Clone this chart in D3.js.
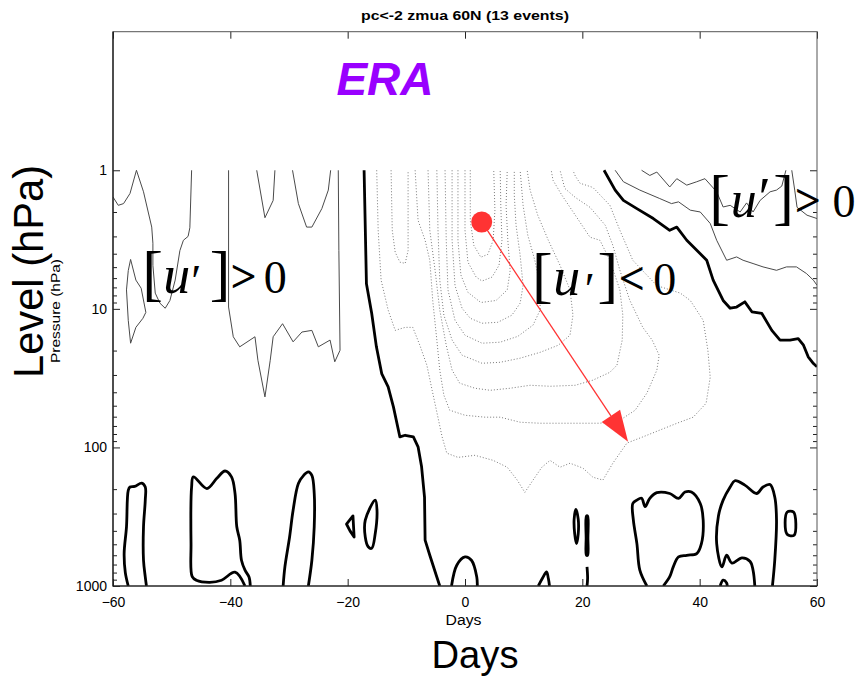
<!DOCTYPE html>
<html>
<head>
<meta charset="utf-8">
<script src="https://cdn.jsdelivr.net/npm/d3@7"></script>
<style>
  body { margin: 0; background: #fff; }
  svg { display: block; font-family: "Liberation Sans", Arial, sans-serif; }
</style>
</head>
<body>
<script>
// ---- data: [day, pressure hPa] ----
const xTicks = [-60, -40, -20, 0, 20, 40, 60];
const yTicks = [1, 10, 100, 1000];

// thin solid contours ([u'] > 0)
const posA = [[-60,1.56],[-59.1,1.79],[-58.2,1.74],[-57.1,1.47],[-56,1],[-54.8,1.43],[-54,2.0],[-53.4,2.57],[-53.2,3.36],[-53.2,4.85],[-52.8,7.7],[-52,9.1],[-51.1,9.9],[-50.3,8.7],[-49.4,6.2],[-48.6,3.8],[-48,3.2],[-47.2,3.0],[-46.9,2.6],[-46.6,1]];
const posB = [[-57,4.4],[-56.1,6.2],[-55.2,7.1],[-54.4,10.6],[-54.9,11.7],[-56.1,13.6],[-57,17.7],[-57.4,12.1],[-57.7,7.3],[-57.4,5.3]];
const posC = [[-40.3,1],[-40.3,9.7],[-39.5,15.9],[-38.4,18.8],[-35.8,15.9],[-35.3,23.5],[-34.1,43.2],[-33.2,23.5],[-32.7,15.9],[-31.1,12.8],[-29.3,17.3],[-27.8,14.7],[-26.1,14.3],[-25,18.8],[-23,16.8],[-22.2,24.1],[-21.3,19.9],[-21.5,3.8],[-21.6,1]];
const posV1 = [[-35.5,1],[-34.1,2.2],[-32.7,1.65],[-32.4,1]];
const posV2 = [[-29.4,1],[-28.4,1.74],[-27,2.57],[-26.1,2.57],[-24.4,1.89],[-23.3,1.39],[-22.9,1]];
const posG = [[25.6,1],[27,1.21],[29.8,1.39],[33.2,1.6],[35.2,1.74],[36.4,1.69],[38.4,1.94],[40.1,2.0],[41.8,2.42],[42.9,3.2],[44.6,4.46],[46.3,4.22],[47.4,4.46],[49.1,4.71],[50.8,4.98],[53.1,5.27],[54.8,4.98],[56.5,4.98],[58.2,5.56],[59.4,6.22],[60,6.76]];
const posH = [[30.1,1],[31.5,1.09],[32.7,1.03],[34.9,1.32],[36.1,1.15],[37.8,1.28],[39.5,1.21],[40.9,1.15],[42.9,1.43],[44,1.84],[45.2,1.79],[46.9,2.0],[48,1.72],[49.1,2.0],[50.3,1.65],[52,1.43],[53.1,1.39],[54,1.3],[54.7,1]];
const posH2 = [[55.7,1],[56.2,1.39],[56.6,1.85],[58.3,2.11],[60,2.23]];

// thick zero contours
const zeroE = [[-17.2,1],[-16.8,6.6],[-15.9,10.8],[-15.1,18.8],[-14.2,29.3],[-13.1,36.6],[-12.2,51],[-11.1,84],[-10.2,81.7],[-8.8,84],[-8,99],[-7.4,138],[-6.9,228],[-6.8,467],[-6,600],[-4.9,836],[-4.3,1000]];
const zeroF = [[23.7,1],[25.6,1.39],[27,1.65],[29.3,1.89],[32.1,2.23],[34.9,2.71],[36.1,2.57],[37.8,3.2],[40.1,4.0],[41.2,4.46],[42.3,6.2],[44,8.7],[45.2,9.9],[46.3,9.7],[47.7,8.9],[48.9,10.5],[50.6,10.8],[52.3,14.3],[53.7,16.8],[55.4,16.8],[56.8,16.4],[57.7,18.3],[58.5,22.2],[59.4,24.8],[60,26.2]];
const zeroL1 = [[-57.4,1000],[-57.9,800],[-58.1,582],[-57.7,374],[-57.4,204],[-57.1,193],[-56.3,191],[-55.1,181],[-54.5,193],[-54.5,240],[-54.8,374],[-54.8,652],[-54.5,860],[-54.3,1000]];
const zeroL2 = [[-37.5,1000],[-39.2,795],[-41.5,908],[-43.5,940],[-45.8,908],[-46.5,857],[-46.7,494],[-46.6,193],[-46.3,163],[-44,198],[-42.3,167],[-40.9,148],[-39.8,163],[-39.2,215],[-38.9,374],[-38.4,467],[-38.1,652],[-37.5,769],[-36.8,864],[-36.6,1000]];
const zeroL3 = [[-31,1000],[-30.7,728],[-29.9,443],[-29.3,284],[-28.4,182],[-27.5,159],[-26.7,150],[-26.1,159],[-25.7,215],[-25.7,374],[-26.1,652],[-26.7,1000]];
const zeroL6 = [[-2.3,1000],[-1.4,708],[0,617],[1.1,652],[2,857],[2.1,1000]];
const zeroL7 = [[12.5,1000],[13.2,880],[13.9,792],[14.2,880],[14.4,1000]];
const zeroL9b = [[20.8,728],[20.9,880],[20.8,1000]];
const zeroL10 = [[31,1000],[29.8,769],[29.3,494],[28.7,335],[28.6,254],[29.3,240],[30.1,233],[30.7,267],[31.5,233],[32.7,212],[34.9,215],[36.4,233],[37.5,210],[38.6,210],[40.1,254],[40.6,335],[40.3,494],[39.5,583],[37.8,600],[36.4,617],[35.5,728],[34.9,857],[33.8,1000]];
const zeroL11 = [[49.4,1000],[49.1,769],[48.6,665],[47.2,626],[45.5,683],[44.6,600],[43.8,728],[42.9,494],[43.2,312],[44,240],[45.2,193],[46,174],[47.7,187],[49.7,215],[50.8,193],[52,185],[52.8,228],[53.1,335],[52.8,652],[52.4,1000]];
const zeroL12 = [[43.5,1000],[44,908],[44.6,950],[44.7,1000]];
const zeroL4 = [[-20.2,357],[-19.1,312],[-18.9,443],[-19.6,400]];
const zeroL5 = [[-17,335],[-15.3,240],[-15,284],[-15.3,418],[-15.9,535],[-16.5,521],[-17,443]];
const zeroL8 = [[18.9,280],[19.3,330],[19.3,420],[19.0,495],[18.7,420],[18.6,330]];
const zeroL9a = [[20.7,312],[20.9,312],[20.95,450],[20.9,600],[20.7,600],[20.65,450]];
const zeroL13 = [[54.9,293],[56,293],[56.1,430],[54.9,423]];

// dotted contours ([u'] < 0)
const neg1 = [[-15.05,1],[-14.8,2.71],[-14.3,6.2],[-13.1,10.2],[-11.9,14.3],[-10.2,13.6],[-8.9,13.6],[-7.7,18.3],[-6.5,25.5],[-5.6,38.7],[-4.8,55.7],[-3.9,84],[-3.1,110],[-1.2,118],[1.7,114],[4.8,124],[7.2,139],[8.9,172],[10.2,211],[11.6,172],[13.1,139],[14.5,124],[16.2,139],[17.9,130],[20.1,141],[21.8,164],[23.5,172],[25.2,130],[27.6,93],[30.3,84],[33.2,75],[36.1,67],[38.9,60.5],[41.1,48],[41.8,31.2],[41.4,19.9],[40.6,12.1],[38.4,8.7],[36.7,7.7],[32.7,6.8],[28.6,4.46],[26.4,2.71],[24.7,1.79],[21.8,1.33],[19.6,1.24],[18.8,1.1],[18.4,1]];
const neg2 = [[-8.5,1],[-8,2.3],[-6.8,3.2],[-6,4.46],[-5.5,8.7],[-4.8,16.8],[-4.3,27.7],[-3.6,42],[-2.6,53.9],[0,58.6],[3.4,60.5],[6,60.5],[9.4,65.8],[12.8,66.9],[17.4,66.9],[23,66.9],[26.4,63.7],[29,53.9],[31,40.6],[32.7,27.7],[33.1,21.6],[31.9,16.8],[30.3,13.6],[28.1,8.7],[26.4,5.27],[25.2,3.48],[23.9,2.49],[21.3,1.85],[18.8,1.57],[17,1.35],[16.2,1]];
const neg3 = [[-6.3,1],[-6,2.71],[-5.1,5.27],[-4.3,10.2],[-3.2,18.3],[-2.2,27.7],[-0.9,34.4],[1.7,37.4],[4.3,38.7],[7.7,37.4],[11.1,35.6],[14.5,36.2],[18.8,35.6],[21.8,32.7],[24.7,28.7],[25.9,25.5],[26.8,16.8],[26.9,11.1],[26.4,7.3],[24.7,4.46],[23,3.2],[21.3,3.04],[18.8,2.11],[16.5,1.51],[15,1.18],[14.7,1]];
const neg4 = [[-4.8,1],[-4.6,2.71],[-4.3,6.2],[-3.6,11.1],[-2.2,16.8],[-0.5,21.6],[2.9,24.7],[6,24.3],[9.4,22.7],[12.8,20.6],[15.9,18.3],[17.9,15.5],[18.4,11.1],[17.9,7.3],[16.2,4.85],[14.2,3.2],[12.4,2.11],[11.1,1.39],[10.6,1]];
const neg5 = [[-3.4,1],[-3.2,3.2],[-2.9,7.3],[-1.7,12.1],[0,15.5],[2.9,17.7],[6,17.4],[9,15.8],[11.6,13.1],[12.8,10.2],[12.8,6.8],[11.9,4.46],[10.7,2.94],[9.9,1.79],[9.4,1]];
const neg6 = [[-2.2,1],[-2.2,3.2],[-1.7,6.8],[-0.5,9.9],[0.9,11.7],[2.9,12.7],[5.6,12.5],[8,11.1],[9.4,9.1],[9.9,6.8],[9.4,4.1],[8.7,2.49],[8.4,1.51],[8.4,1]];
const neg7 = [[-1.2,1],[-1.2,3.2],[-0.7,5.7],[0.5,7.6],[2.7,9],[5.3,8.7],[7.2,7.3],[7.7,5.3],[7.3,3.2],[7,1.79],[7.2,1]];
const neg8 = [[0,1],[0,2.71],[0.5,4.6],[1.9,5.9],[2.9,6.3],[4.6,5.9],[5.8,4.85],[6.3,3.2],[6.1,1.79],[6,1]];
const neg9 = [[0.9,1],[0.9,2.3],[1.5,3.48],[2.7,4.24],[3.9,4.04],[4.8,3.2],[5.1,1.94],[4.9,1]];
const negU = [[-12.6,1],[-12.4,2.71],[-11.9,3.9],[-11.1,4.6],[-10.2,4.7],[-9.7,3.8],[-9.7,1]];

// annotation: red dot + arrow (day, hPa)
const arrowFrom = [2.85, 2.36];
const arrowTo = [27.8, 91];

// ---- layout ----
const W = 859, H = 680;
const x = d3.scaleLinear().domain([-60, 60]).range([113, 817]);
const y = d3.scaleLog().domain([1000, 0.1]).range([586, 31.7]);

const svg = d3.select("body").append("svg").attr("width", W).attr("height", H);

svg.append("clipPath").attr("id", "plot")
  .append("rect")
  .attr("x", x(-60)).attr("y", y(0.1))
  .attr("width", x(60) - x(-60)).attr("height", y(1000) - y(0.1));

const line = d3.line().x(d => x(d[0])).y(d => y(d[1]));
const lineClosed = d3.line().x(d => x(d[0])).y(d => y(d[1])).curve(d3.curveLinearClosed);
const smooth = d3.line().x(d => x(d[0])).y(d => y(d[1])).curve(d3.curveCatmullRom.alpha(0.5));
const smoothClosed = d3.line().x(d => x(d[0])).y(d => y(d[1])).curve(d3.curveCatmullRomClosed.alpha(0.5));

const g = svg.append("g").attr("clip-path", "url(#plot)");

// dotted negatives
g.selectAll(".neg").data([neg1, neg2, neg3, neg4, neg5, neg6, neg7, neg8, neg9, negU])
  .join("path").attr("class", "neg")
  .attr("d", line).attr("fill", "none")
  .attr("stroke", "#7a7a7a").attr("stroke-width", 1).attr("stroke-dasharray", "1,2");

// thin positives
g.selectAll(".pos").data([posA, posC, posV1, posV2, posG, posH, posH2])
  .join("path").attr("class", "pos")
  .attr("d", line).attr("fill", "none")
  .attr("stroke", "#4a4a4a").attr("stroke-width", 1);
g.append("path").attr("d", lineClosed(posB)).attr("fill", "none")
  .attr("stroke", "#4a4a4a").attr("stroke-width", 1);

// thick zero line
const zeroStyle = sel => sel.attr("fill", "none").attr("stroke", "#000")
  .attr("stroke-width", 2.8).attr("stroke-linejoin", "round");
g.selectAll(".z1").data([zeroE, zeroF]).join("path").attr("class", "z1").attr("d", line).call(zeroStyle);
g.selectAll(".z2").data([zeroL1, zeroL2, zeroL3, zeroL6, zeroL7, zeroL9b, zeroL10, zeroL11, zeroL12])
  .join("path").attr("class", "z2").attr("d", smooth).call(zeroStyle);
g.selectAll(".z3").data([zeroL5, zeroL8, zeroL9a, zeroL13])
  .join("path").attr("class", "z3").attr("d", smoothClosed).call(zeroStyle);
g.append("path").attr("d", lineClosed(zeroL4)).call(zeroStyle);

// axes (ticks inward)
const ax = svg.append("g");
ax.append("g").attr("transform", `translate(0,${y(1000)})`)
  .call(d3.axisBottom(x).tickValues(xTicks).tickSize(-7).tickSizeOuter(0).tickPadding(11).tickFormat(d3.format("d")));
ax.append("g").attr("transform", `translate(0,${y(0.1)})`)
  .call(d3.axisTop(x).tickValues(xTicks).tickSize(-7).tickSizeOuter(0).tickFormat(""));
ax.append("g").attr("transform", `translate(${x(-60)},0)`)
  .call(d3.axisLeft(y).tickValues(yTicks).tickSize(-7).tickSizeOuter(0).tickPadding(6).tickFormat(d3.format("d")));
ax.append("g").attr("transform", `translate(${x(60)},0)`)
  .call(d3.axisRight(y).tickValues(yTicks).tickSize(-7).tickSizeOuter(0).tickFormat(""));
const minorTicks = y.ticks().filter(d => d >= 1 && d <= 1000 && !yTicks.includes(d));
ax.append("g").attr("transform", `translate(${x(-60)},0)`)
  .call(d3.axisLeft(y).tickValues(minorTicks).tickSize(-4).tickSizeOuter(0).tickFormat(""));
ax.append("g").attr("transform", `translate(${x(60)},0)`)
  .call(d3.axisRight(y).tickValues(minorTicks).tickSize(-4).tickSizeOuter(0).tickFormat(""));
ax.selectAll(".domain").remove();
ax.selectAll(".tick line").attr("stroke", "#222");
ax.selectAll(".tick text").attr("font-size", 14).attr("fill", "#000")
  .attr("font-family", '"Liberation Sans", Arial, sans-serif');

// frame
svg.append("rect")
  .attr("x", x(-60)).attr("y", y(0.1))
  .attr("width", x(60) - x(-60)).attr("height", y(1000) - y(0.1))
  .attr("fill", "none").attr("stroke", "#555").attr("stroke-width", 1);
svg.append("path")
  .attr("d", `M${x(-60)},${y(0.1)}V${y(1000)}H${x(60)}`)
  .attr("fill", "none").attr("stroke", "#111").attr("stroke-width", 1.2);

// red dot and arrow
const p0 = [x(arrowFrom[0]), y(arrowFrom[1])];
const p1 = [x(arrowTo[0]), y(arrowTo[1])];
const len = Math.hypot(p1[0] - p0[0], p1[1] - p0[1]);
const ux = (p1[0] - p0[0]) / len, uy = (p1[1] - p0[1]) / len;
const headL = 31, headW = 11;
const base = [p1[0] - ux * headL, p1[1] - uy * headL];
svg.append("line")
  .attr("x1", p0[0]).attr("y1", p0[1]).attr("x2", base[0]).attr("y2", base[1])
  .attr("stroke", "#ff3333").attr("stroke-width", 1.3);
svg.append("path")
  .attr("d", `M${p1[0]},${p1[1]}L${base[0] - uy * headW},${base[1] + ux * headW}L${base[0] + uy * headW},${base[1] - ux * headW}Z`)
  .attr("fill", "#ff3333");
svg.append("circle").attr("cx", p0[0]).attr("cy", p0[1]).attr("r", 10.5).attr("fill", "#ff3333");

// [u'] labels, one text each, glyphs placed as tspans
const uLabels = [
  { at: [-54.0, 7.72], sign: ">", off: [4.5, 28.5, 48, 72, 95.5, 127], uSize: 54, primeDy: 4, primeSize: 46 },
  { at: [12.4, 7.98], sign: "<", off: [4.5, 29, 52, 70, 94, 127], uSize: 54, primeDy: 10, primeSize: 46 },
  { at: [42.9, 2.17], sign: ">", off: [3, 27, 48, 67, 91.3, 127.3], uSize: 52, primeDy: 0, primeSize: 56 }
];
uLabels.forEach(lb => {
  const bx = x(lb.at[0]), by = y(lb.at[1]);
  const t = svg.append("text")
    .attr("font-family", '"Liberation Serif", "DejaVu Serif", serif')
    .attr("fill", "#000").attr("text-anchor", "middle");
  const parts = [
    { s: "[", size: 62, dy: 1 },
    { s: "u", size: lb.uSize, dy: 0, italic: true },
    { s: "\u2032", size: lb.primeSize, dy: lb.primeDy },
    { s: "]", size: 62, dy: 1 },
    { s: lb.sign, size: 46, dy: -1, bold: true },
    { s: "0", size: 46, dy: 0 }
  ];
  parts.forEach((p, i) => {
    t.append("tspan").attr("x", bx + lb.off[i]).attr("y", by + p.dy)
      .attr("font-size", p.size).attr("font-style", p.italic ? "italic" : "normal")
      .attr("font-weight", p.bold ? "bold" : "normal")
      .text(p.s);
  });
});

// titles
svg.append("text").attr("x", 465).attr("y", 20).attr("text-anchor", "middle")
  .attr("font-size", 13.5).attr("font-weight", "bold")
  .attr("textLength", 208).attr("lengthAdjust", "spacingAndGlyphs")
  .text("pc<-2 zmua 60N (13 events)");
svg.append("text").attr("x", 385).attr("y", 95).attr("text-anchor", "middle")
  .attr("font-size", 46).attr("font-weight", "bold").attr("font-style", "italic")
  .attr("fill", "#9900ff").text("ERA");
svg.append("text").attr("x", 463.5).attr("y", 625).attr("text-anchor", "middle")
  .attr("font-size", 14).attr("textLength", 36).attr("lengthAdjust", "spacingAndGlyphs").text("Days");
svg.append("text").attr("x", 475).attr("y", 668).attr("text-anchor", "middle")
  .attr("font-size", 38).attr("textLength", 87).attr("lengthAdjust", "spacingAndGlyphs").text("Days");
svg.append("text").attr("transform", "translate(43,271.5) rotate(-90)").attr("text-anchor", "middle")
  .attr("font-size", 42).attr("textLength", 213).attr("lengthAdjust", "spacingAndGlyphs").text("Level (hPa)");
svg.append("text").attr("transform", "translate(60,311) rotate(-90)").attr("text-anchor", "middle")
  .attr("font-size", 12).attr("textLength", 104).attr("lengthAdjust", "spacingAndGlyphs").text("Pressure (hPa)");
</script>
</body>
</html>
